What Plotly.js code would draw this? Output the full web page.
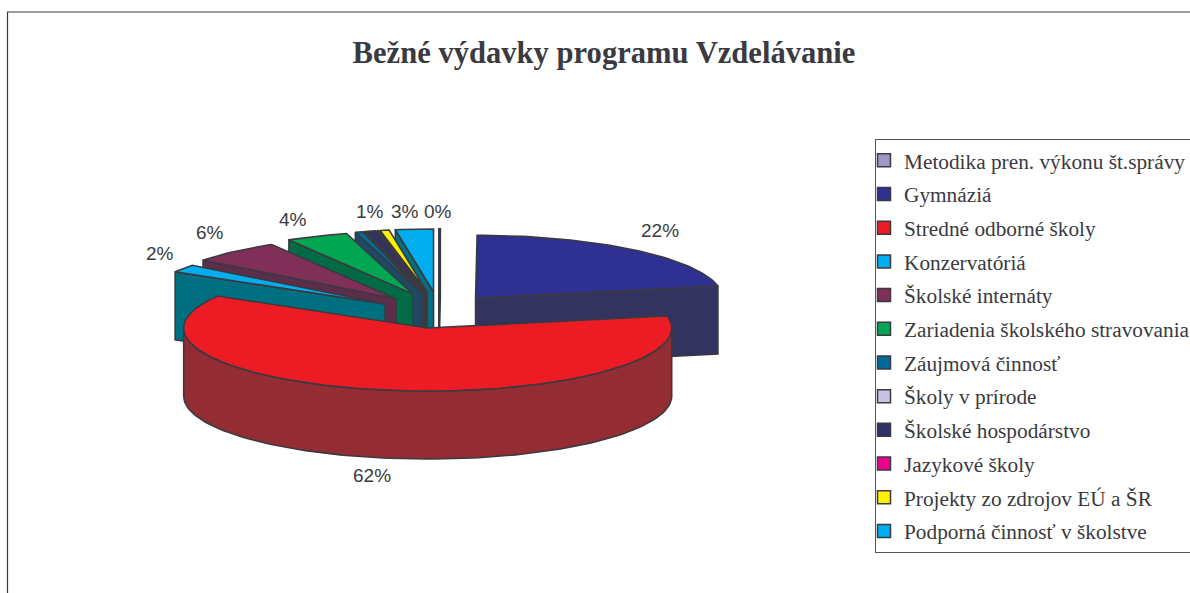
<!DOCTYPE html>
<html>
<head>
<meta charset="utf-8">
<script src="https://cdn.plot.ly/plotly-3.0.1.min.js"></script>
<style>html,body{margin:0;padding:0;background:#fff;overflow:hidden}#chart{width:1190px;height:593px}</style>
</head>
<body>
<div id="chart"></div>
<script>
// ---- data ----
const categories = ["Metodika pren. výkonu št.správy","Gymnáziá","Stredné odborné školy","Konzervatóriá","Školské internáty","Zariadenia školského stravovania","Záujmová činnosť","Školy v prírode","Školské hospodárstvo","Jazykové školy","Projekty zo zdrojov EÚ a ŠR","Podporná činnosť v školstve"];
const shares = [0.1,21.8,61.6,2.0,6.0,4.1,0.5,0.1,0.6,0.1,0.6,2.5];
const shownLabels = [true,true,true,true,true,true,false,false,true,false,false,true];
const topColors = ["#A096C8","#2E3192","#ED1C24","#00AEEF","#7F2F58","#00A651","#006A9A","#C7C4E2","#2F3168","#EC008C","#FFF200","#00AEEF"];
const wallColors = ["#FFFFFF","#33335F","#932D33","#006F7F","#5E2D4B","#006B45","#1F4A66","#8A88AA","#38384A","#7A2060","#55554A","#007083"];

// ---- 3D pie geometry ----
const cx = 438.6, cy = 319.4, baseRx = 244, ry = 63, depth = 68;
const blowX = 64.6, blowY = 27.5, redIndex = 2, redBlowY = 8.8, gymIndex = 1, gymBlowX = 58, gymRx = 247;
const edge = "#3A3A40";
const labelAt = [[438,211],[660,230],[372,475],[160,253],[210,232],[293,219],null,null,[370,211],null,null,[405,211]];

const total = shares.reduce((a,b)=>a+b,0);
const rad = d => d*Math.PI/180;
let run = 0;
const slices = shares.map((v,i)=>{
  const a0 = run/total*360; run += v; const a1 = run/total*360;
  const mid = rad((a0+a1)/2);
  const by = i===redIndex ? redBlowY : blowY;
  const bx = i===gymIndex ? gymBlowX : blowX;
  return {i,a0,a1, rx:i===gymIndex?gymRx:baseRx, ax:cx+bx*Math.sin(mid), ay:cy-by*Math.cos(mid)};
});
const rimPt = (s,a,dz=0)=>[s.ax+s.rx*Math.sin(rad(a)), s.ay-ry*Math.cos(rad(a))+dz];
const poly = (pts,fill,lw)=>({type:"scatter",mode:"lines",x:pts.map(p=>p[0]),y:pts.map(p=>p[1]),
  fill:"toself",fillcolor:fill,line:{color:edge,width:lw||1.6},showlegend:false,hoverinfo:"skip"});

function arc(s,from,to,dz=0){const n=Math.max(2,Math.ceil(Math.abs(to-from)/1.5));const o=[];
  for(let k=0;k<=n;k++)o.push(rimPt(s,from+(to-from)*k/n,dz));return o;}

function sliceTraces(s){
  const out=[], wall=wallColors[s.i], top=topColors[s.i];
  const face=a=>{const r=rimPt(s,a);return poly([[s.ax,s.ay],r,[r[0],r[1]+depth],[s.ax,s.ay+depth],[s.ax,s.ay]],wall);};
  if(s.a0>180) out.push(face(s.a0));
  if(s.a1<180) out.push(face(s.a1));
  const f=Math.max(s.a0,90), t=Math.min(s.a1,270);
  if(t>f){ out.push(poly(arc(s,f,t).concat(arc(s,t,f,depth)).concat([rimPt(s,f)]),wall)); }
  out.push(poly([[s.ax,s.ay]].concat(arc(s,s.a0,s.a1)).concat([[s.ax,s.ay]]),s.i===0?"#FFFFFF":top));
  return out;
}

// back-to-front painting order
const paintOrder = [0,11,10,9,8,7,6,5,4,3,1,2];
let traces=[];
paintOrder.forEach(i=>{traces=traces.concat(sliceTraces(slices[i]));});

// legend entries
categories.forEach((name,i)=>traces.push({type:"scatter",mode:"markers",x:[null],y:[null],name,legendgroup:"g"+i,
  marker:{symbol:"square",size:13,color:topColors[i],line:{color:edge,width:1.5}},hoverinfo:"skip"}));

const annotations=[];
shares.forEach((v,i)=>{ if(shownLabels[i]) annotations.push({x:labelAt[i][0],y:labelAt[i][1],xref:"x",yref:"y",showarrow:false,
  text:Math.round(v/total*100)+"%",font:{family:"Liberation Sans, Arial, sans-serif",size:19,color:edge}});});

const layout={
  width:1190,height:593,margin:{l:0,r:0,t:0,b:0,autoexpand:false},
  paper_bgcolor:"#fff",plot_bgcolor:"#fff",
  title:{text:"<b>Bežné výdavky programu Vzdelávanie</b>",x:604/1190,xanchor:"center",y:1-52/593,yanchor:"middle",
    font:{family:"Liberation Serif, Times New Roman, serif",size:30.6,color:edge}},
  xaxis:{range:[0,1190],visible:false,fixedrange:true},
  yaxis:{range:[593,0],visible:false,fixedrange:true},
  showlegend:true,
  legend:{x:875/1190,xanchor:"left",y:1-139/593,yanchor:"top",bordercolor:"#55555a",borderwidth:1,bgcolor:"#fff",
    tracegroupgap:3,indentation:-12,itemclick:false,itemdoubleclick:false,
    font:{family:"Liberation Serif, Times New Roman, serif",size:21.3,color:edge}},
  annotations,
  shapes:[
    {type:"line",xref:"x",yref:"y",x0:7.5,x1:7.5,y0:12,y1:593,line:{color:edge,width:1.2}},
    {type:"line",xref:"x",yref:"y",x0:7,x1:1190,y0:12,y1:12,line:{color:edge,width:1.2}}
  ]
};
Plotly.newPlot("chart",traces,layout,{displayModeBar:false,staticPlot:true});
</script>
</body>
</html>
